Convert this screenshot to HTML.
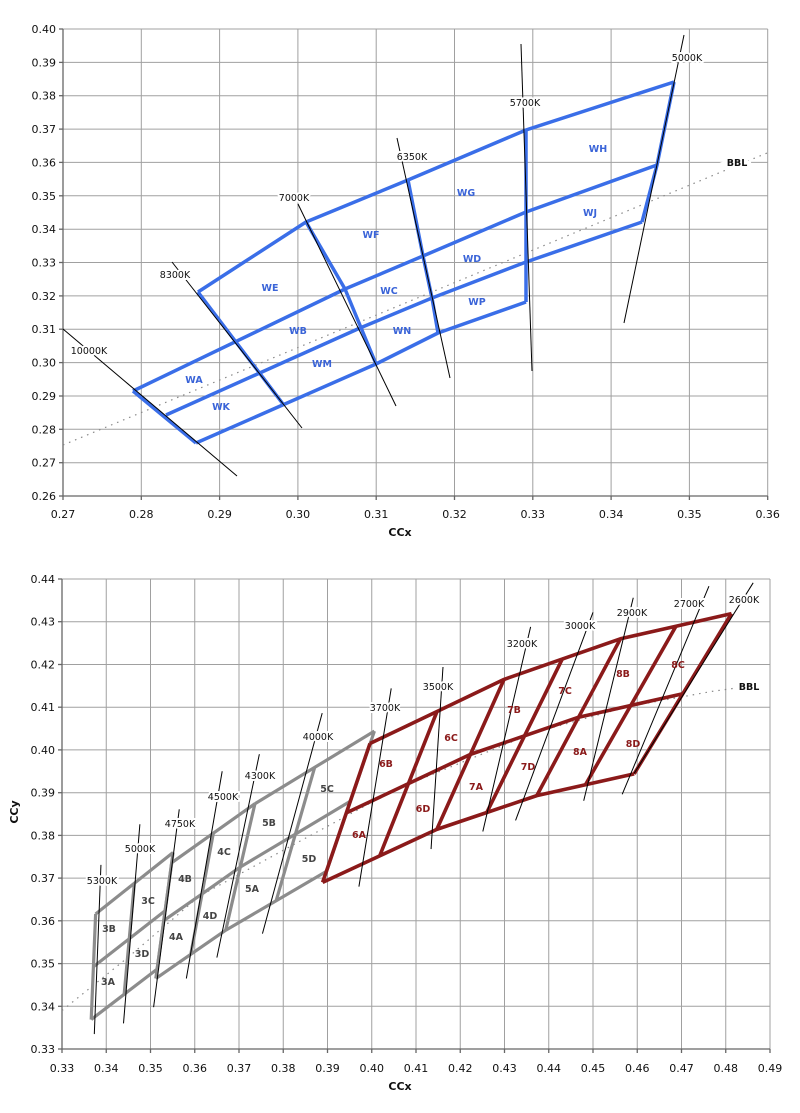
<!DOCTYPE html>
<html><head><meta charset="utf-8"><style>
html,body{margin:0;padding:0;background:#fff;}
svg{display:block;font-family:"DejaVu Sans","Liberation Sans",sans-serif;}
.g{stroke:#a0a0a0;stroke-width:1;}
.tk{font-size:11px;fill:#111;}
.lb{font-size:9.5px;fill:#111;paint-order:stroke;stroke:#fff;stroke-width:4px;stroke-linejoin:round;}
.bl{font-size:9.5px;font-weight:bold;fill:#3a64d8;}
.rl{font-size:9.5px;font-weight:bold;fill:#8b1a1a;}
.gl{font-size:9.5px;font-weight:bold;fill:#444;}
</style></head><body>
<svg width="800" height="1113" viewBox="0 0 800 1113" xmlns="http://www.w3.org/2000/svg">
<rect width="800" height="1113" fill="#fff"/>
<!-- TOP CHART GRID -->
<g class="g">
<line x1="63" y1="29" x2="767.7" y2="29"/><line x1="63" y1="62.4" x2="767.7" y2="62.4"/><line x1="63" y1="95.7" x2="767.7" y2="95.7"/><line x1="63" y1="129.1" x2="767.7" y2="129.1"/><line x1="63" y1="162.4" x2="767.7" y2="162.4"/><line x1="63" y1="195.8" x2="767.7" y2="195.8"/><line x1="63" y1="229.2" x2="767.7" y2="229.2"/><line x1="63" y1="262.5" x2="767.7" y2="262.5"/><line x1="63" y1="295.9" x2="767.7" y2="295.9"/><line x1="63" y1="329.2" x2="767.7" y2="329.2"/><line x1="63" y1="362.6" x2="767.7" y2="362.6"/><line x1="63" y1="396" x2="767.7" y2="396"/><line x1="63" y1="429.3" x2="767.7" y2="429.3"/><line x1="63" y1="462.7" x2="767.7" y2="462.7"/>
<line x1="141.3" y1="29" x2="141.3" y2="496"/><line x1="219.6" y1="29" x2="219.6" y2="496"/><line x1="297.9" y1="29" x2="297.9" y2="496"/><line x1="376.2" y1="29" x2="376.2" y2="496"/><line x1="454.5" y1="29" x2="454.5" y2="496"/><line x1="532.8" y1="29" x2="532.8" y2="496"/><line x1="611.1" y1="29" x2="611.1" y2="496"/><line x1="689.4" y1="29" x2="689.4" y2="496"/><line x1="767.7" y1="29" x2="767.7" y2="496"/>
</g>
<g stroke="#666" stroke-width="1.3">
<line x1="63" y1="29" x2="63" y2="496"/><line x1="63" y1="496" x2="767.7" y2="496"/>
<line x1="59" y1="29" x2="63" y2="29"/><line x1="59" y1="62.4" x2="63" y2="62.4"/><line x1="59" y1="95.7" x2="63" y2="95.7"/><line x1="59" y1="129.1" x2="63" y2="129.1"/><line x1="59" y1="162.4" x2="63" y2="162.4"/><line x1="59" y1="195.8" x2="63" y2="195.8"/><line x1="59" y1="229.2" x2="63" y2="229.2"/><line x1="59" y1="262.5" x2="63" y2="262.5"/><line x1="59" y1="295.9" x2="63" y2="295.9"/><line x1="59" y1="329.2" x2="63" y2="329.2"/><line x1="59" y1="362.6" x2="63" y2="362.6"/><line x1="59" y1="396" x2="63" y2="396"/><line x1="59" y1="429.3" x2="63" y2="429.3"/><line x1="59" y1="462.7" x2="63" y2="462.7"/><line x1="59" y1="496" x2="63" y2="496"/>
<line x1="63" y1="496" x2="63" y2="500"/><line x1="141.3" y1="496" x2="141.3" y2="500"/><line x1="219.6" y1="496" x2="219.6" y2="500"/><line x1="297.9" y1="496" x2="297.9" y2="500"/><line x1="376.2" y1="496" x2="376.2" y2="500"/><line x1="454.5" y1="496" x2="454.5" y2="500"/><line x1="532.8" y1="496" x2="532.8" y2="500"/><line x1="611.1" y1="496" x2="611.1" y2="500"/><line x1="689.4" y1="496" x2="689.4" y2="500"/><line x1="767.7" y1="496" x2="767.7" y2="500"/>
</g>
<g class="tk" text-anchor="end">
<text x="56" y="33">0.40</text><text x="56" y="66.4">0.39</text><text x="56" y="99.7">0.38</text><text x="56" y="133.1">0.37</text><text x="56" y="166.4">0.36</text><text x="56" y="199.8">0.35</text><text x="56" y="233.2">0.34</text><text x="56" y="266.5">0.33</text><text x="56" y="299.9">0.32</text><text x="56" y="333.2">0.31</text><text x="56" y="366.6">0.30</text><text x="56" y="400">0.29</text><text x="56" y="433.3">0.28</text><text x="56" y="466.7">0.27</text><text x="56" y="500">0.26</text>
</g>
<g class="tk" text-anchor="middle">
<text x="63" y="518">0.27</text><text x="141.3" y="518">0.28</text><text x="219.6" y="518">0.29</text><text x="297.9" y="518">0.30</text><text x="376.2" y="518">0.31</text><text x="454.5" y="518">0.32</text><text x="532.8" y="518">0.33</text><text x="611.1" y="518">0.34</text><text x="689.4" y="518">0.35</text><text x="767.7" y="518">0.36</text>
</g>
<text x="400" y="536" text-anchor="middle" font-size="11" font-weight="bold" fill="#111">CCx</text>
<!-- top BBL -->
<line x1="63" y1="445" x2="767" y2="153" stroke="#888" stroke-width="1.2" stroke-dasharray="1.5,5"/>
<!-- top blue grid -->
<g fill="none" stroke="#3a6ee8" stroke-width="3.5" stroke-linejoin="round">
<polyline points="198,292 306,222 408,180 526,130 674,82"/>
<polyline points="133,391 345,289 423,256 526,212 657,165"/>
<polyline points="166,415 360,328 432,298 526,262 642,222"/>
<polyline points="196,443 376,364 438,333 526,302"/>
<polyline points="133,391 196,443"/>
<polyline points="198,292 283,404"/>
<polyline points="306,222 345,289 376,364"/>
<polyline points="408,180 423,256 432,298 438,333"/>
<polyline points="526,130 526,302"/>
<polyline points="674,82 657,165 642,222"/>
</g>
<!-- top CCT lines -->
<g stroke="#000" stroke-width="1">
<line x1="63" y1="329" x2="237" y2="476"/>
<line x1="172" y1="262" x2="302" y2="428"/>
<line x1="298" y1="204" x2="396" y2="406"/>
<line x1="397" y1="138" x2="450" y2="378"/>
<line x1="521" y1="44" x2="532" y2="371"/>
<line x1="684" y1="35" x2="624" y2="323"/>
</g>
<g class="lb" text-anchor="middle">
<text x="89" y="354">10000K</text><text x="175" y="278">8300K</text><text x="294" y="201">7000K</text><text x="412" y="160">6350K</text><text x="525" y="106">5700K</text><text x="687" y="61">5000K</text>
</g>
<text x="737" y="166" text-anchor="middle" font-size="9.5" font-weight="bold" fill="#111" style="paint-order:stroke;stroke:#fff;stroke-width:8px">BBL</text>
<g class="bl" text-anchor="middle">
<text x="270" y="291">WE</text><text x="371" y="238">WF</text><text x="194" y="383">WA</text><text x="298" y="334">WB</text><text x="389" y="294">WC</text><text x="472" y="262">WD</text><text x="466" y="196">WG</text><text x="598" y="152">WH</text><text x="590" y="216">WJ</text><text x="221" y="410">WK</text><text x="322" y="367">WM</text><text x="402" y="334">WN</text><text x="477" y="305">WP</text>
</g>

<!-- BOTTOM CHART GRID -->
<g class="g">
<line x1="62" y1="579" x2="770" y2="579"/><line x1="62" y1="621.7" x2="770" y2="621.7"/><line x1="62" y1="664.5" x2="770" y2="664.5"/><line x1="62" y1="707.2" x2="770" y2="707.2"/><line x1="62" y1="749.9" x2="770" y2="749.9"/><line x1="62" y1="792.7" x2="770" y2="792.7"/><line x1="62" y1="835.4" x2="770" y2="835.4"/><line x1="62" y1="878.1" x2="770" y2="878.1"/><line x1="62" y1="920.8" x2="770" y2="920.8"/><line x1="62" y1="963.6" x2="770" y2="963.6"/><line x1="62" y1="1006.3" x2="770" y2="1006.3"/>
<line x1="106.25" y1="579" x2="106.25" y2="1049"/><line x1="150.5" y1="579" x2="150.5" y2="1049"/><line x1="194.75" y1="579" x2="194.75" y2="1049"/><line x1="239" y1="579" x2="239" y2="1049"/><line x1="283.25" y1="579" x2="283.25" y2="1049"/><line x1="327.5" y1="579" x2="327.5" y2="1049"/><line x1="371.75" y1="579" x2="371.75" y2="1049"/><line x1="416" y1="579" x2="416" y2="1049"/><line x1="460.25" y1="579" x2="460.25" y2="1049"/><line x1="504.5" y1="579" x2="504.5" y2="1049"/><line x1="548.75" y1="579" x2="548.75" y2="1049"/><line x1="593" y1="579" x2="593" y2="1049"/><line x1="637.25" y1="579" x2="637.25" y2="1049"/><line x1="681.5" y1="579" x2="681.5" y2="1049"/><line x1="725.75" y1="579" x2="725.75" y2="1049"/><line x1="770" y1="579" x2="770" y2="1049"/>
</g>
<g stroke="#666" stroke-width="1.3">
<line x1="62" y1="579" x2="62" y2="1049"/><line x1="62" y1="1049" x2="770" y2="1049"/>
<line x1="58" y1="579" x2="62" y2="579"/><line x1="58" y1="621.7" x2="62" y2="621.7"/><line x1="58" y1="664.5" x2="62" y2="664.5"/><line x1="58" y1="707.2" x2="62" y2="707.2"/><line x1="58" y1="749.9" x2="62" y2="749.9"/><line x1="58" y1="792.7" x2="62" y2="792.7"/><line x1="58" y1="835.4" x2="62" y2="835.4"/><line x1="58" y1="878.1" x2="62" y2="878.1"/><line x1="58" y1="920.8" x2="62" y2="920.8"/><line x1="58" y1="963.6" x2="62" y2="963.6"/><line x1="58" y1="1006.3" x2="62" y2="1006.3"/><line x1="58" y1="1049" x2="62" y2="1049"/>
<line x1="62" y1="1049" x2="62" y2="1053"/><line x1="106.25" y1="1049" x2="106.25" y2="1053"/><line x1="150.5" y1="1049" x2="150.5" y2="1053"/><line x1="194.75" y1="1049" x2="194.75" y2="1053"/><line x1="239" y1="1049" x2="239" y2="1053"/><line x1="283.25" y1="1049" x2="283.25" y2="1053"/><line x1="327.5" y1="1049" x2="327.5" y2="1053"/><line x1="371.75" y1="1049" x2="371.75" y2="1053"/><line x1="416" y1="1049" x2="416" y2="1053"/><line x1="460.25" y1="1049" x2="460.25" y2="1053"/><line x1="504.5" y1="1049" x2="504.5" y2="1053"/><line x1="548.75" y1="1049" x2="548.75" y2="1053"/><line x1="593" y1="1049" x2="593" y2="1053"/><line x1="637.25" y1="1049" x2="637.25" y2="1053"/><line x1="681.5" y1="1049" x2="681.5" y2="1053"/><line x1="725.75" y1="1049" x2="725.75" y2="1053"/><line x1="770" y1="1049" x2="770" y2="1053"/>
</g>
<g class="tk" text-anchor="end">
<text x="55" y="583">0.44</text><text x="55" y="625.7">0.43</text><text x="55" y="668.5">0.42</text><text x="55" y="711.2">0.41</text><text x="55" y="753.9">0.40</text><text x="55" y="796.7">0.39</text><text x="55" y="839.4">0.38</text><text x="55" y="882.1">0.37</text><text x="55" y="924.8">0.36</text><text x="55" y="967.6">0.35</text><text x="55" y="1010.3">0.34</text><text x="55" y="1053">0.33</text>
</g>
<g class="tk" text-anchor="middle">
<text x="62" y="1072">0.33</text><text x="106.25" y="1072">0.34</text><text x="150.5" y="1072">0.35</text><text x="194.75" y="1072">0.36</text><text x="239" y="1072">0.37</text><text x="283.25" y="1072">0.38</text><text x="327.5" y="1072">0.39</text><text x="371.75" y="1072">0.40</text><text x="416" y="1072">0.41</text><text x="460.25" y="1072">0.42</text><text x="504.5" y="1072">0.43</text><text x="548.75" y="1072">0.44</text><text x="593" y="1072">0.45</text><text x="637.25" y="1072">0.46</text><text x="681.5" y="1072">0.47</text><text x="725.75" y="1072">0.48</text><text x="770" y="1072">0.49</text>
</g>
<text x="400" y="1090" text-anchor="middle" font-size="11" font-weight="bold" fill="#111">CCx</text>
<text transform="translate(18,812) rotate(-90)" text-anchor="middle" font-size="11" font-weight="bold" fill="#111">CCy</text>

<!-- bottom data, coordinates in thousandths -->
<g transform="matrix(4.425 0 0 -4.273 -1398.25 2459.1)" fill="none" stroke-linejoin="round">
<polyline vector-effect="non-scaling-stroke" stroke="#888" stroke-width="1.2" stroke-dasharray="1.5,5" points="330,339 345.1,351.6 361.1,365.8 380.5,376.8 405.3,390.7 436.9,404.1 457.8,410.1 476.9,413.7 486,415"/>
<g stroke="#8c8c8c" stroke-width="3.2">
<polyline vector-effect="non-scaling-stroke" points="337.6,361.6 346.35,368.8 355.1,376"/>
<polyline vector-effect="non-scaling-stroke" points="337.1,349.25 345.2,355.8 353.3,362.35"/>
<polyline vector-effect="non-scaling-stroke" points="336.6,336.9 344.05,342.8 351.5,348.7"/>
<polyline vector-effect="non-scaling-stroke" points="337.6,361.6 337.1,349.25 336.6,336.9"/>
<polyline vector-effect="non-scaling-stroke" points="346.35,368.8 345.2,355.8 344.05,342.8"/>
<polyline vector-effect="non-scaling-stroke" points="355.1,376 353.3,362.35 351.5,348.7"/>
<polyline vector-effect="non-scaling-stroke" points="354.8,373.6 364.2,380.5 373.6,387.4"/>
<polyline vector-effect="non-scaling-stroke" points="353,360.05 361.65,366.3 370.3,372.6"/>
<polyline vector-effect="non-scaling-stroke" points="351.2,346.5 359.1,352.15 367,357.8"/>
<polyline vector-effect="non-scaling-stroke" points="354.8,373.6 353,360.05 351.2,346.5"/>
<polyline vector-effect="non-scaling-stroke" points="364.2,380.5 361.65,366.3 359.1,352.15"/>
<polyline vector-effect="non-scaling-stroke" points="373.6,387.4 370.3,372.6 367,357.8"/>
<polyline vector-effect="non-scaling-stroke" points="373.6,387.4 387.1,395.9 400.6,404.4"/>
<polyline vector-effect="non-scaling-stroke" points="370.3,372.6 382.75,380.3 395.2,388"/>
<polyline vector-effect="non-scaling-stroke" points="367,357.8 378.4,364.7 389.8,371.6"/>
<polyline vector-effect="non-scaling-stroke" points="387.1,395.9 382.75,380.3 378.4,364.7"/>
<polyline vector-effect="non-scaling-stroke" points="400.6,404.4 395.2,388 389.8,371.6"/>
</g>
<g stroke="#8b1a1a" stroke-width="3.6">
<polyline vector-effect="non-scaling-stroke" points="399.6,401.5 414.75,409 429.9,416.5 443.05,421.25 456.2,426 468.75,428.95 481.3,431.9"/>
<polyline vector-effect="non-scaling-stroke" points="394.25,385.25 408.28,392.1 422.3,398.95 434.53,403.3 446.75,407.65 458.53,410.4 470.3,413.15"/>
<polyline vector-effect="non-scaling-stroke" points="388.9,369 401.8,375.2 414.7,381.4 426,385.35 437.3,389.3 448.3,391.85 459.3,394.4"/>
<polyline vector-effect="non-scaling-stroke" points="399.6,401.5 394.25,385.25 388.9,369"/>
<polyline vector-effect="non-scaling-stroke" points="414.75,409 408.28,392.1 401.8,375.2"/>
<polyline vector-effect="non-scaling-stroke" points="429.9,416.5 422.3,398.95 414.7,381.4"/>
<polyline vector-effect="non-scaling-stroke" points="443.05,421.25 434.53,403.3 426,385.35"/>
<polyline vector-effect="non-scaling-stroke" points="456.2,426 446.75,407.65 437.3,389.3"/>
<polyline vector-effect="non-scaling-stroke" points="468.75,428.95 458.53,410.4 448.3,391.85"/>
<polyline vector-effect="non-scaling-stroke" points="481.3,431.9 470.3,413.15 459.3,394.4"/>
</g>
<g stroke="#000" stroke-width="1">
<line vector-effect="non-scaling-stroke" x1="338.8" y1="373.1" x2="337.3" y2="333.5"/>
<line vector-effect="non-scaling-stroke" x1="347.6" y1="382.6" x2="343.9" y2="336"/>
<line vector-effect="non-scaling-stroke" x1="356.5" y1="386.1" x2="350.7" y2="339.8"/>
<line vector-effect="non-scaling-stroke" x1="366.2" y1="395" x2="358.1" y2="346.5"/>
<line vector-effect="non-scaling-stroke" x1="374.6" y1="399" x2="365" y2="351.4"/>
<line vector-effect="non-scaling-stroke" x1="388.8" y1="408.6" x2="375.3" y2="357"/>
<line vector-effect="non-scaling-stroke" x1="404.4" y1="414.4" x2="397.1" y2="368"/>
<line vector-effect="non-scaling-stroke" x1="416.1" y1="419.4" x2="413.4" y2="376.8"/>
<line vector-effect="non-scaling-stroke" x1="435.9" y1="428.8" x2="425.1" y2="380.9"/>
<line vector-effect="non-scaling-stroke" x1="450" y1="432.2" x2="432.5" y2="383.5"/>
<line vector-effect="non-scaling-stroke" x1="459.1" y1="435.6" x2="447.9" y2="388.1"/>
<line vector-effect="non-scaling-stroke" x1="476.2" y1="438.3" x2="456.6" y2="389.6"/>
<line vector-effect="non-scaling-stroke" x1="486.2" y1="439.1" x2="459.3" y2="394.5"/>
</g>
</g>
<g class="lb" text-anchor="middle">
<text x="102" y="884">5300K</text><text x="140" y="852">5000K</text><text x="180" y="827">4750K</text><text x="223" y="800">4500K</text><text x="260" y="779">4300K</text><text x="318" y="740">4000K</text><text x="385" y="711">3700K</text><text x="438" y="690">3500K</text><text x="522" y="647">3200K</text><text x="580" y="629">3000K</text><text x="632" y="616">2900K</text><text x="689" y="607">2700K</text><text x="744" y="603">2600K</text>
</g>
<text x="749" y="690" text-anchor="middle" font-size="9.5" font-weight="bold" fill="#111" style="paint-order:stroke;stroke:#fff;stroke-width:8px">BBL</text>
<g class="gl" text-anchor="middle">
<text x="109" y="932">3B</text><text x="148" y="904">3C</text><text x="108" y="985">3A</text><text x="142" y="957">3D</text><text x="185" y="882">4B</text><text x="224" y="855">4C</text><text x="176" y="940">4A</text><text x="210" y="919">4D</text><text x="269" y="826">5B</text><text x="327" y="792">5C</text><text x="252" y="892">5A</text><text x="309" y="862">5D</text>
</g>
<g class="rl" text-anchor="middle">
<text x="386" y="767">6B</text><text x="359" y="838">6A</text><text x="451" y="741">6C</text><text x="423" y="812">6D</text><text x="514" y="713">7B</text><text x="476" y="790">7A</text><text x="565" y="694">7C</text><text x="528" y="770">7D</text><text x="623" y="677">8B</text><text x="580" y="755">8A</text><text x="678" y="668">8C</text><text x="633" y="747">8D</text>
</g>
</svg>
</body></html>
